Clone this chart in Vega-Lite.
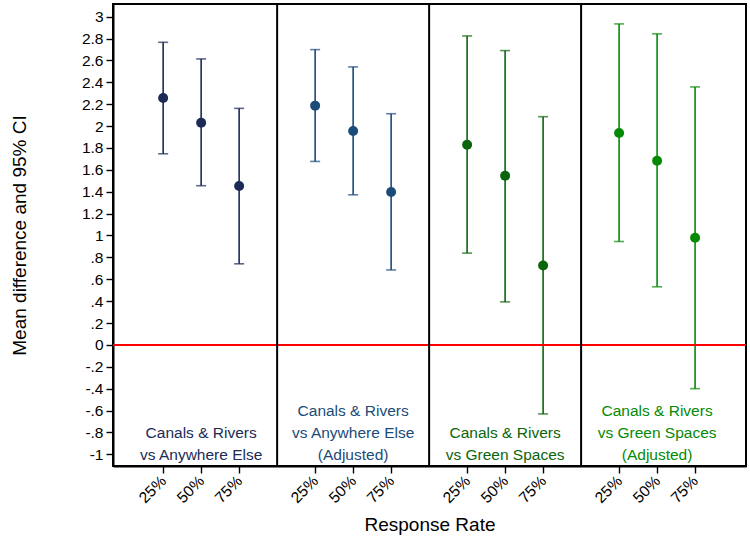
{
  "$schema": "https://vega.github.io/schema/vega-lite/v6.json",
  "autosize": "none",
  "padding": {"left": 113, "top": 4, "right": 4, "bottom": 71},
  "width": 633,
  "height": 462,
  "datasets": {
    "ci": [
      {"slot": 1, "rate": "25%", "panel": "A", "mean": 2.257, "lo": 1.747, "hi": 2.766},
      {"slot": 2, "rate": "50%", "panel": "A", "mean": 2.031, "lo": 1.455, "hi": 2.614},
      {"slot": 3, "rate": "75%", "panel": "A", "mean": 1.452, "lo": 0.741, "hi": 2.162},
      {"slot": 5, "rate": "25%", "panel": "B", "mean": 2.187, "lo": 1.677, "hi": 2.699},
      {"slot": 6, "rate": "50%", "panel": "B", "mean": 1.955, "lo": 1.372, "hi": 2.541},
      {"slot": 7, "rate": "75%", "panel": "B", "mean": 1.397, "lo": 0.685, "hi": 2.113},
      {"slot": 9, "rate": "25%", "panel": "C", "mean": 1.83, "lo": 0.839, "hi": 2.824},
      {"slot": 10, "rate": "50%", "panel": "C", "mean": 1.546, "lo": 0.393, "hi": 2.69},
      {"slot": 11, "rate": "75%", "panel": "C", "mean": 0.726, "lo": -0.631, "hi": 2.086},
      {"slot": 13, "rate": "25%", "panel": "D", "mean": 1.937, "lo": 0.945, "hi": 2.934},
      {"slot": 14, "rate": "50%", "panel": "D", "mean": 1.683, "lo": 0.531, "hi": 2.843},
      {"slot": 15, "rate": "75%", "panel": "D", "mean": 0.979, "lo": -0.4, "hi": 2.358}
    ],
    "labels": [
      {"slot": 2, "panel": "A", "label": "Canals & Rivers\nvs Anywhere Else"},
      {"slot": 6, "panel": "B", "label": "Canals & Rivers\nvs Anywhere Else\n(Adjusted)"},
      {"slot": 10, "panel": "C", "label": "Canals & Rivers\nvs Green Spaces"},
      {"slot": 14, "panel": "D", "label": "Canals & Rivers\nvs Green Spaces\n(Adjusted)"}
    ],
    "dividers": [{"slot": 4}, {"slot": 8}, {"slot": 12}],
    "one": [{}]
  },
  "encoding": {
    "x": {
      "field": "slot",
      "type": "quantitative",
      "title": "Response Rate",
      "scale": {"domain": [-0.32, 16.34], "nice": false, "zero": false},
      "axis": {
        "values": [1, 2, 3, 5, 6, 7, 9, 10, 11, 13, 14, 15],
        "labelExpr": "['25%', '50%', '75%'][(datum.value - 1) % 4]",
        "labelAngle": -45,
        "labelAlign": "right",
        "labelBaseline": "middle",
        "labelPadding": 5,
        "labelOverlap": false,
        "tickSize": 7,
        "titlePadding": 10,
        "grid": false
      }
    },
    "color": {
      "field": "panel",
      "type": "nominal",
      "scale": {"domain": ["A", "B", "C", "D"], "range": ["#1b2b56", "#1b4b79", "#0b650b", "#058a05"]},
      "legend": null
    }
  },
  "layer": [
    {
      "data": {"name": "ci"},
      "mark": {"type": "rule", "strokeWidth": 1.6},
      "encoding": {
        "y": {
          "field": "lo",
          "type": "quantitative",
          "title": "Mean difference and 95% CI",
          "scale": {"domain": [-1.107, 3.116], "nice": false, "zero": false}
        },
        "y2": {"field": "hi"}
      }
    },
    {
      "data": {"name": "ci"},
      "mark": {"type": "tick", "orient": "horizontal", "size": 10, "thickness": 1.6},
      "encoding": {"y": {"field": "lo", "type": "quantitative"}}
    },
    {
      "data": {"name": "ci"},
      "mark": {"type": "tick", "orient": "horizontal", "size": 10, "thickness": 1.6},
      "encoding": {"y": {"field": "hi", "type": "quantitative"}}
    },
    {
      "data": {"name": "ci"},
      "mark": {"type": "circle", "size": 100, "opacity": 1},
      "encoding": {"y": {"field": "mean", "type": "quantitative"}}
    },
    {
      "data": {"name": "labels"},
      "transform": [{"filter": "datum.panel == 'A' || datum.panel == 'C'"}],
      "mark": {"type": "text", "align": "center", "baseline": "middle", "fontSize": 15.5, "lineHeight": 22, "lineBreak": "\n", "font": "Liberation Sans"},
      "encoding": {
        "y": {"datum": -0.805},
        "text": {"field": "label"}
      }
    },
    {
      "data": {"name": "labels"},
      "transform": [{"filter": "datum.panel == 'B' || datum.panel == 'D'"}],
      "mark": {"type": "text", "align": "center", "baseline": "middle", "fontSize": 15.5, "lineHeight": 22, "lineBreak": "\n", "font": "Liberation Sans"},
      "encoding": {
        "y": {"datum": -0.604},
        "text": {"field": "label"}
      }
    },
    {
      "data": {"name": "one"},
      "mark": {"type": "rule", "color": "#ff0000", "strokeWidth": 2},
      "encoding": {"y": {"datum": 0}, "color": {"value": "#ff0000"}, "x": {"value": 0}, "x2": {"value": 633}}
    },
    {
      "data": {"name": "dividers"},
      "mark": {"type": "rule", "color": "black", "strokeWidth": 2},
      "encoding": {"color": {"value": "black"}}
    }
  ],
  "config": {
    "font": "Liberation Sans",
    "view": {"stroke": "black", "strokeWidth": 2},
    "axis": {
      "labelFont": "Liberation Sans",
      "titleFont": "Liberation Sans",
      "labelFontSize": 15.5,
      "titleFontSize": 19,
      "titleFontWeight": "normal",
      "labelColor": "black",
      "titleColor": "black",
      "tickColor": "black",
      "domainColor": "black",
      "domainWidth": 2,
      "tickWidth": 1.4
    },
    "axisY": {
      "tickCount": 21,
      "labelExpr": "(datum.value < -0.01 ? '-' : '') + replace(format(abs(datum.value), '.1~f'), regexp('^0\\\\.'), '.')",
      "labelOverlap": false,
      "tickSize": 7,
      "labelPadding": 3,
      "titlePadding": 52,
      "grid": false
    }
  }
}
